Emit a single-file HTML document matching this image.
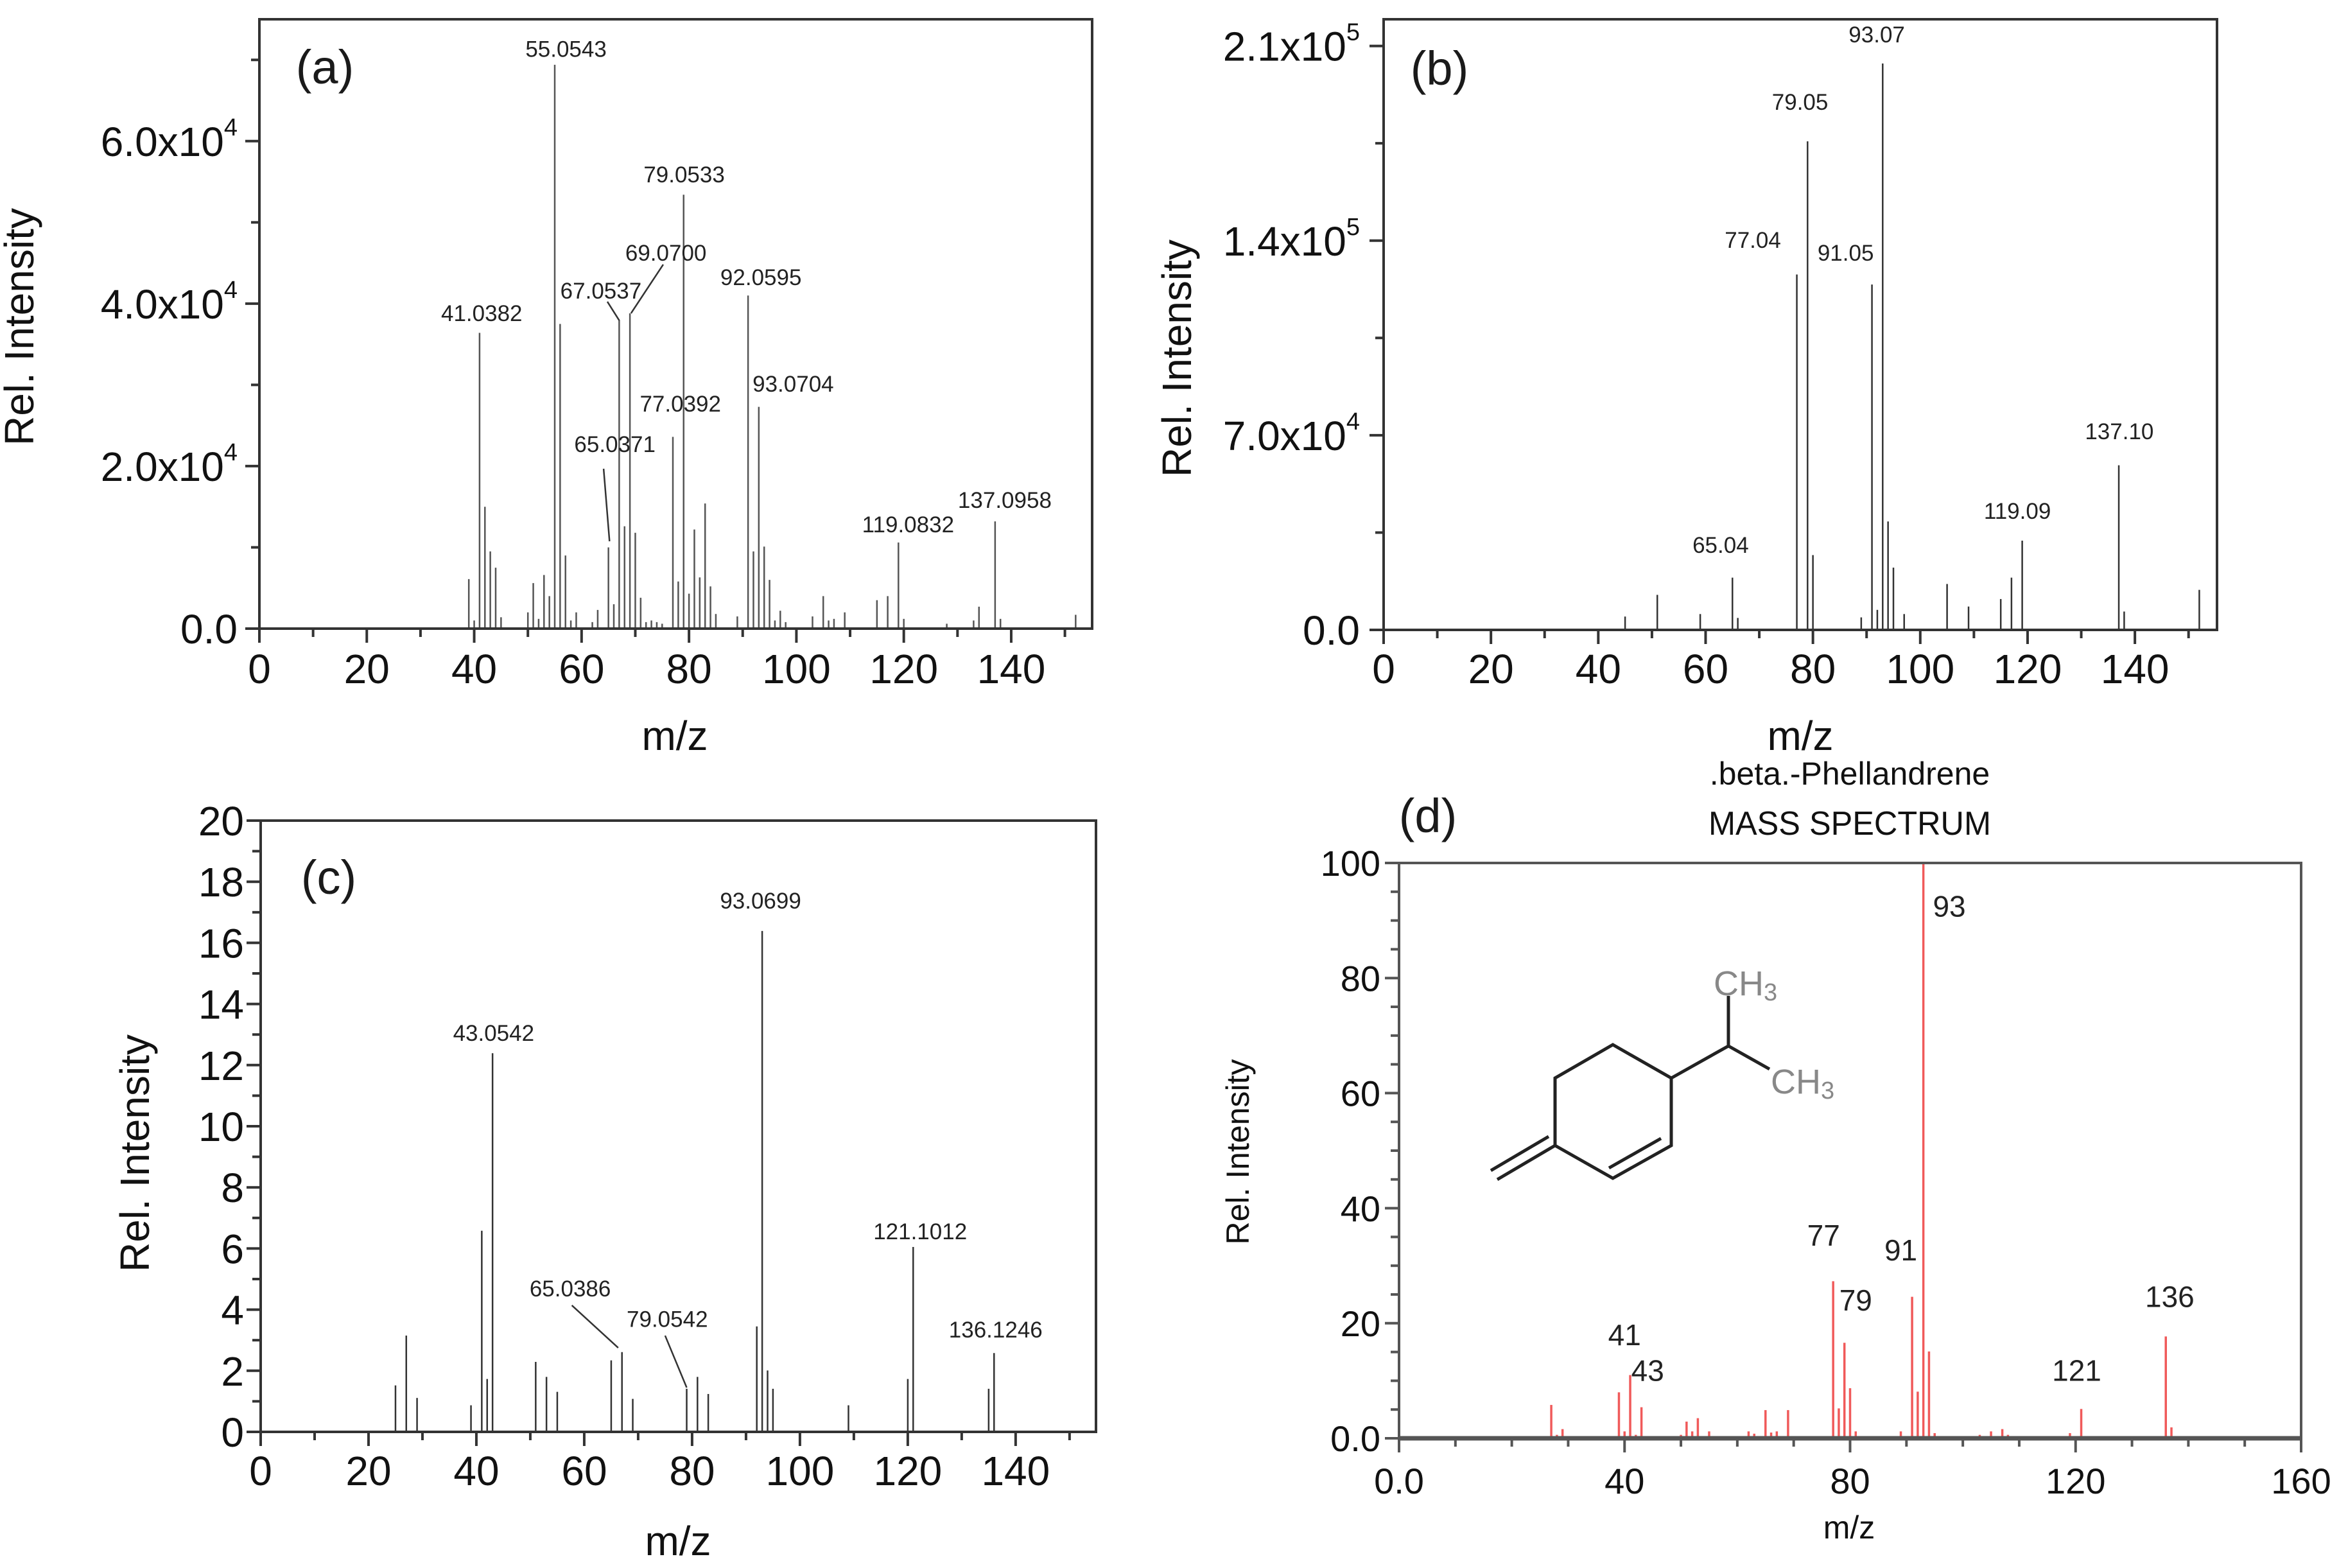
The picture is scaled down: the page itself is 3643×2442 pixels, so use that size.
<!DOCTYPE html>
<html><head><meta charset="utf-8"><style>
html,body{margin:0;padding:0;background:#fff;}
svg{display:block;font-family:"Liberation Sans",sans-serif;}
</style></head><body>
<svg id="chart" xmlns="http://www.w3.org/2000/svg" width="3643" height="2442" viewBox="0 0 3643 2442">
<rect x="0" y="0" width="3643" height="2442" fill="#fff"/>
<g stroke="#222" stroke-width="5" fill="none">
<polyline points="2422,1784 2422,1679 2512,1627 2603,1679 2603,1784 2512,1835 2422,1784"/>
<line x1="2506" y1="1819" x2="2587" y2="1773"/>
<line x1="2422" y1="1784" x2="2332" y2="1837"/>
<line x1="2412" y1="1770" x2="2322" y2="1823"/>
<polyline points="2603,1679 2692,1629 2692,1551"/>
<line x1="2692" y1="1629" x2="2756" y2="1665"/>
</g>
<text x="2669" y="1550" font-size="54" fill="#888">CH<tspan font-size="38" dy="8">3</tspan></text>
<text x="2758" y="1703" font-size="54" fill="#888">CH<tspan font-size="38" dy="8">3</tspan></text>
<text x="2881" y="1222" font-size="50" text-anchor="middle" fill="#111">.beta.-Phellandrene</text>
<text x="2881" y="1300" font-size="52" text-anchor="middle" fill="#111" textLength="440" lengthAdjust="spacingAndGlyphs">MASS SPECTRUM</text>
</svg>
<script>
// ---------- Panel (a) data ----------
const aMz = [39,40,41,42,43,44,45,50,51,52,53,54,55,56,57,58,59,62,63,65,66,67,68,69,70,71,72,73,74,75,77,78,79,80,81,82,83,84,85,89,91,92,93,94,95,96,97,98,103,105,106,107,109,115,117,119,120,128,133,134,137,138,152];
const aVal = [6100,1000,36400,15000,9500,7500,1400,2000,5600,1200,6600,4000,69400,37500,9000,1000,2000,800,2300,10000,3000,38000,12600,38800,11800,3800,800,1000,800,600,23600,5800,53400,4300,12200,6300,15400,5200,1800,1500,41000,9500,27300,10100,6000,1000,2200,800,1500,4000,1000,1200,2000,3500,4000,10600,1200,600,1000,2700,13200,1200,1700];
const aLabelText = ["55.0543","79.0533","69.0700","67.0537","92.0595","41.0382","93.0704","77.0392","65.0371","119.0832","137.0958"];
const aLabelMz = [57.1,79.1,75.7,63.6,93.4,41.4,99.4,78.4,66.2,120.8,138.8];
const aLabelVal = [70360,54940,45300,40630,42290,37870,29170,26720,21740,11860,14860];
const aLeaderMz1 = [64.8,75.2,64.1];
const aLeaderVal1 = [40240,44820,19680];
const aLeaderMz2 = [67.0,69.2,65.2];
const aLeaderVal2 = [37940,38810,10750];
const aXTicks = [0,20,40,60,80,100,120,140];
const aXTickLabels = ["0","20","40","60","80","100","120","140"];
const aXMinor = [10,30,50,70,90,110,130,150];
const aYTicks = [0,20000,40000,60000];
const aYTickLabels = ["0.0","2.0x10","4.0x10","6.0x10"];
const aYTickSup = ["","4","4","4"];
const aYMinor = [10000,30000,50000,70000];

// ---------- Panel (b) data ----------
const bMz = [45,51,59,65,66,77,79,80,89,91,92,93,94,95,97,105,109,115,117,119,137,138,152];
const bVal = [4800,12600,5700,18800,4300,127800,175700,26900,4500,124200,7200,203700,39000,22400,5700,16500,8400,11100,18800,32100,59200,6600,14400];
const bLabelText = ["93.07","79.05","77.04","91.05","137.10","119.09","65.04"];
const bLabelMz = [91.9,77.6,68.8,86.1,137.1,118.1,62.8];
const bLabelVal = [211270,187030,137380,132760,68580,39940,27710];
const bXTicks = [0,20,40,60,80,100,120,140];
const bXTickLabels = ["0","20","40","60","80","100","120","140"];
const bXMinor = [10,30,50,70,90,110,130,150];
const bYTicks = [0,70000,140000,210000];
const bYTickLabels = ["0.0","7.0x10","1.4x10","2.1x10"];
const bYTickSup = ["","4","5","5"];
const bYMinor = [35000,105000,175000];

// ---------- Panel (c) data ----------
const cMz = [25,27,29,39,41,42,43,51,53,55,65,67,69,79,81,83,92,93,94,95,109,120,121,135,136];
const cVal = [1.52,3.15,1.11,0.87,6.58,1.73,12.39,2.29,1.8,1.31,2.34,2.61,1.08,1.41,1.8,1.24,3.45,16.39,2.01,1.41,0.87,1.73,6.05,1.41,2.58];
const cLabelText = ["93.0699","43.0542","121.1012","65.0386","79.0542","136.1246"];
const cLabelMz = [92.7,43.2,122.3,57.4,75.4,136.3];
const cLabelVal = [17.12,12.79,6.3,4.43,3.43,3.09];
const cLeaderMz1 = [57.7,75.0];
const cLeaderVal1 = [4.14,3.15];
const cLeaderMz2 = [66.3,79.0];
const cLeaderVal2 = [2.75,1.45];
const cXTicks = [0,20,40,60,80,100,120,140];
const cXTickLabels = ["0","20","40","60","80","100","120","140"];
const cXMinor = [10,30,50,70,90,110,130,150];
const cYTicks = [0,2,4,6,8,10,12,14,16,18,20];
const cYTickLabels = ["0","2","4","6","8","10","12","14","16","18","20"];
const cYTickSup = ["","","","","","","","","","",""];
const cYMinor = [1,3,5,7,9,11,13,15,17,19];

// ---------- Panel (d) data ----------
const dMz = [27,28,29,39,40,41,42,43,50,51,52,53,55,62,63,65,66,67,69,77,78,79,80,81,89,91,92,93,94,95,103,105,107,108,119,121,136,137];
const dVal = [5.8,0.6,1.6,8.0,1.2,11.0,0.6,5.4,0.6,2.9,1.2,3.5,1.2,1.2,0.8,4.9,1.0,1.2,4.9,27.3,5.2,16.6,8.7,1.2,1.2,24.6,8.1,100,15.1,0.9,0.6,1.2,1.6,0.6,0.9,5.1,17.7,1.9];
const dLabelText = ["93","77","91","79","136","41","43","121"];
const dLabelMz = [97.6,75.3,89.0,81.0,136.7,40.0,44.1,120.2];
const dLabelVal = [90.7,33.5,30.9,22.2,22.8,16.2,10.0,10.0];
const dXTicks = [0,40,80,120,160];
const dXTickLabels = ["0.0","40","80","120","160"];
const dXMinor = [10,20,30,50,60,70,90,100,110,130,140,150];
const dYTicks = [0,20,40,60,80,100];
const dYTickLabels = ["0.0","20","40","60","80","100"];
const dYTickSup = ["","","","","",""];
const dYMinor = [5,10,15,25,30,35,45,50,55,65,70,75,85,90,95];

const NS = 'http://www.w3.org/2000/svg';
const svg = document.getElementById('chart');
function mk(tag, attrs, parent) {
  const e = document.createElementNS(NS, tag);
  for (const k in attrs) e.setAttribute(k, attrs[k]);
  (parent || svg).appendChild(e);
  return e;
}

function drawPanel(key, g, D) {
  const grp = mk('g', {});
  
  
  const X = v => g.left + (v / g.xmax) * (g.right - g.left);
  const Y = v => g.bottom - (v / g.ymax) * (g.bottom - g.top);

  // peaks
  for (let i = 0; i < D.mz.length; i++) {
    const l = mk('line', {x1: X(D.mz[i]), x2: X(D.mz[i]), y1: Y(0), y2: Y(D.val[i]), stroke: g.peakColor, 'stroke-width': g.peakW}, grp);
    
    
  }
  // frame
  const fr = mk('rect', {x: g.left, y: g.top, width: g.right - g.left, height: g.bottom - g.top, fill: 'none', stroke: g.frameColor, 'stroke-width': g.frameW}, grp);
  
  
  if (g.axisW) {
    const ax = mk('line', {x1: g.left, x2: g.right, y1: g.bottom, y2: g.bottom, stroke: g.frameColor, 'stroke-width': g.axisW}, grp);
    
    
  }
  // x ticks
  for (let i = 0; i < D.xt.length; i++) {
    const t = mk('line', {x1: X(D.xt[i]), x2: X(D.xt[i]), y1: g.bottom, y2: g.bottom + 22, stroke: g.frameColor, 'stroke-width': 4}, grp);
    
    
    const tx = mk('text', {x: X(D.xt[i]), y: g.xlabY, 'font-size': g.tickFont, 'text-anchor': 'middle', fill: '#111'}, grp);
    tx.textContent = D.xtl[i];
    
    
  }
  for (let i = 0; i < D.xm.length; i++) {
    const t = mk('line', {x1: X(D.xm[i]), x2: X(D.xm[i]), y1: g.bottom, y2: g.bottom + 13, stroke: g.frameColor, 'stroke-width': 4}, grp);
    
    
  }
  // y ticks
  for (let i = 0; i < D.yt.length; i++) {
    const t = mk('line', {x1: g.left - 22, x2: g.left, y1: Y(D.yt[i]), y2: Y(D.yt[i]), stroke: g.frameColor, 'stroke-width': 4}, grp);
    
    
    const tx = mk('text', {x: g.ylabX, y: Y(D.yt[i]) + g.tickFont * 0.36, 'font-size': g.tickFont, 'text-anchor': 'end', fill: '#111'}, grp);
    
    
    if (D.yts[i]) {
      const s1 = mk('tspan', {}, tx);
      s1.textContent = D.ytl[i];
      const s2 = mk('tspan', {'font-size': 38, dy: -32}, tx);
      s2.textContent = D.yts[i];
    } else {
      tx.textContent = D.ytl[i];
    }
  }
  for (let i = 0; i < D.ym.length; i++) {
    const t = mk('line', {x1: g.left - 13, x2: g.left, y1: Y(D.ym[i]), y2: Y(D.ym[i]), stroke: g.frameColor, 'stroke-width': 4}, grp);
    
    
  }
  // peak labels
  for (let i = 0; i < D.lt.length; i++) {
    const tx = mk('text', {x: X(D.lm[i]), y: Y(D.lv[i]), 'font-size': g.labFont, 'text-anchor': 'middle', fill: '#222'}, grp);
    tx.textContent = D.lt[i];
    
    
  }
  if (D.lm1) {
    for (let i = 0; i < D.lm1.length; i++) {
      const l = mk('line', {x1: X(D.lm1[i]), y1: Y(D.lv1[i]), x2: X(D.lm2[i]), y2: Y(D.lv2[i]), stroke: '#333', 'stroke-width': 2.5}, grp);
      
      
    }
  }
  // axis titles / panel letter
  const yt = mk('text', {x: g.ytX, y: g.ytY, 'font-size': g.titleFont, 'text-anchor': 'middle', fill: '#111', transform: 'rotate(-90 ' + g.ytX + ' ' + g.ytY + ')'}, grp);
  yt.textContent = 'Rel. Intensity';
  
  
  const xt = mk('text', {x: g.xtX, y: g.xtY, 'font-size': g.titleFont, 'text-anchor': 'middle', fill: '#111'}, grp);
  xt.textContent = 'm/z';
  
  
  const pl = mk('text', {x: g.plX, y: g.plY, 'font-size': 74, 'text-anchor': 'middle', fill: '#1a1a1a'}, grp);
  pl.textContent = '(' + key + ')';
  
  
}

drawPanel('a', {left:404,right:1701,top:30,bottom:979,xmax:155.07,ymax:75000,peakColor:'#555',peakW:2.5,frameColor:'#333',frameW:4,tickFont:64,labFont:35,xlabY:1064,ylabX:370,titleFont:64,ytX:52,ytY:509,xtX:1051,xtY:1168,plX:506,plY:130},
  {mz:aMz,val:aVal,xt:aXTicks,xtl:aXTickLabels,xm:aXMinor,yt:aYTicks,ytl:aYTickLabels,yts:aYTickSup,ym:aYMinor,lt:aLabelText,lm:aLabelMz,lv:aLabelVal,lm1:aLeaderMz1,lv1:aLeaderVal1,lm2:aLeaderMz2,lv2:aLeaderVal2});
drawPanel('b', {left:2155,right:3453,top:30,bottom:981,xmax:155.3,ymax:219600,peakColor:'#333',peakW:2.5,frameColor:'#333',frameW:4,tickFont:64,labFont:35,xlabY:1064,ylabX:2118,titleFont:64,ytX:1855,ytY:558,xtX:2804,xtY:1168,plX:2242,plY:132},
  {mz:bMz,val:bVal,xt:bXTicks,xtl:bXTickLabels,xm:bXMinor,yt:bYTicks,ytl:bYTickLabels,yts:bYTickSup,ym:bYMinor,lt:bLabelText,lm:bLabelMz,lv:bLabelVal});
drawPanel('c', {left:406,right:1707,top:1278,bottom:2230,xmax:154.9,ymax:20,peakColor:'#333',peakW:2.5,frameColor:'#333',frameW:4,tickFont:64,labFont:35,xlabY:2313,ylabX:380,titleFont:64,ytX:232,ytY:1796,xtX:1056,xtY:2422,plX:512,plY:1392},
  {mz:cMz,val:cVal,xt:cXTicks,xtl:cXTickLabels,xm:cXMinor,yt:cYTicks,ytl:cYTickLabels,yts:cYTickSup,ym:cYMinor,lt:cLabelText,lm:cLabelMz,lv:cLabelVal,lm1:cLeaderMz1,lv1:cLeaderVal1,lm2:cLeaderMz2,lv2:cLeaderVal2});
drawPanel('d', {left:2179,right:3584,top:1344,bottom:2240,xmax:160,ymax:100,peakColor:'#f05a5a',peakW:3.5,frameColor:'#555',frameW:4,axisW:7,tickFont:56,labFont:46,xlabY:2326,ylabX:2150,titleFont:50,ytX:1945,ytY:1794,xtX:2880,xtY:2396,plX:2224,plY:1296},
  {mz:dMz,val:dVal,xt:dXTicks,xtl:dXTickLabels,xm:dXMinor,yt:dYTicks,ytl:dYTickLabels,yts:dYTickSup,ym:dYMinor,lt:dLabelText,lm:dLabelMz,lv:dLabelVal});
</script>
</body></html>
